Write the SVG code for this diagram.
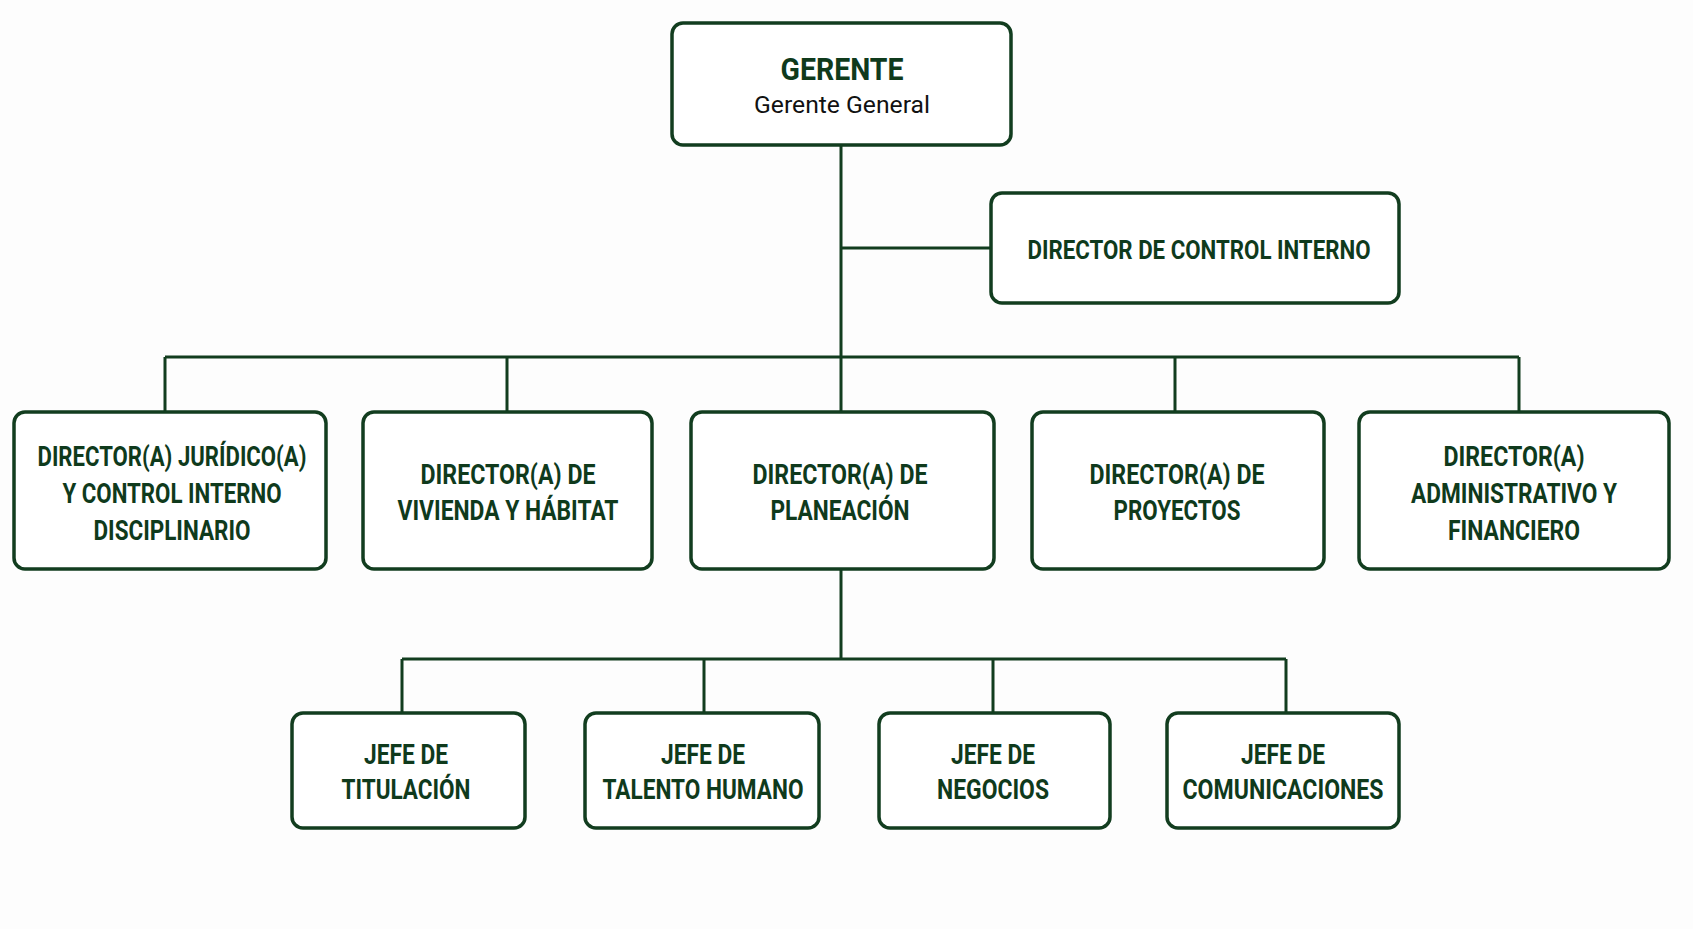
<svg xmlns="http://www.w3.org/2000/svg" width="1693" height="929" viewBox="0 0 1693 929">
<style>
.box{fill:#ffffff;stroke:#123d1f;stroke-width:3.5}
.ln{fill:none;stroke:#123d1f;stroke-width:3}
.t{font-family:Roboto,"Liberation Sans",sans-serif;font-weight:bold;fill:#0f3a1c;text-anchor:middle;font-size:27px}
.ts{font-family:Roboto,"Liberation Sans",sans-serif;fill:#111;text-anchor:middle;font-size:24px}
</style>
<rect width="1693" height="929" fill="#fdfdfd"/>
<g id="connectors">
<path class="ln" d="M841 145 V412"/>
<path class="ln" d="M841 248 H991"/>
<path class="ln" d="M165 357 H1519"/>
<path class="ln" d="M165 357 V412 M507 357 V412 M1175 357 V412 M1519 357 V412"/>
<path class="ln" d="M841 569 V659"/>
<path class="ln" d="M402 659 H1286"/>
<path class="ln" d="M402 659 V713 M704 659 V713 M993 659 V713 M1286 659 V713"/>
</g>
<g id="gerente">
<rect class="box" x="672" y="23" width="339" height="122" rx="11"/>
<text class="t" x="842" y="80" style="font-size:31px" textLength="123" lengthAdjust="spacingAndGlyphs">GERENTE</text>
<text class="ts" x="842" y="113" textLength="176" lengthAdjust="spacingAndGlyphs">Gerente General</text>
</g>
<g id="control-interno">
<rect class="box" x="991" y="193" width="408" height="110" rx="11"/>
<text class="t" x="1199" y="259" style="font-size:25px" textLength="343" lengthAdjust="spacingAndGlyphs">DIRECTOR DE CONTROL INTERNO</text>
</g>
<g id="juridico">
<rect class="box" x="14" y="412" width="312" height="157" rx="11"/>
<text class="t" x="172" y="466" textLength="269" lengthAdjust="spacingAndGlyphs">DIRECTOR(A) JURÍDICO(A)</text>
<text class="t" x="172" y="503" textLength="219" lengthAdjust="spacingAndGlyphs">Y CONTROL INTERNO</text>
<text class="t" x="172" y="540" textLength="157" lengthAdjust="spacingAndGlyphs">DISCIPLINARIO</text>
</g>
<g id="vivienda">
<rect class="box" x="363" y="412" width="289" height="157" rx="11"/>
<text class="t" x="508" y="484" textLength="175" lengthAdjust="spacingAndGlyphs">DIRECTOR(A) DE</text>
<text class="t" x="508" y="520" textLength="221" lengthAdjust="spacingAndGlyphs">VIVIENDA Y HÁBITAT</text>
</g>
<g id="planeacion">
<rect class="box" x="691" y="412" width="303" height="157" rx="11"/>
<text class="t" x="840" y="484" textLength="175" lengthAdjust="spacingAndGlyphs">DIRECTOR(A) DE</text>
<text class="t" x="840" y="520" textLength="139" lengthAdjust="spacingAndGlyphs">PLANEACIÓN</text>
</g>
<g id="proyectos">
<rect class="box" x="1032" y="412" width="292" height="157" rx="11"/>
<text class="t" x="1177" y="484" textLength="175" lengthAdjust="spacingAndGlyphs">DIRECTOR(A) DE</text>
<text class="t" x="1177" y="520" textLength="127" lengthAdjust="spacingAndGlyphs">PROYECTOS</text>
</g>
<g id="administrativo">
<rect class="box" x="1359" y="412" width="310" height="157" rx="11"/>
<text class="t" x="1514" y="466" textLength="141" lengthAdjust="spacingAndGlyphs">DIRECTOR(A)</text>
<text class="t" x="1514" y="503" textLength="206" lengthAdjust="spacingAndGlyphs">ADMINISTRATIVO Y</text>
<text class="t" x="1514" y="540" textLength="132" lengthAdjust="spacingAndGlyphs">FINANCIERO</text>
</g>
<g id="titulacion">
<rect class="box" x="292" y="713" width="233" height="115" rx="11"/>
<text class="t" x="406" y="764" textLength="84" lengthAdjust="spacingAndGlyphs">JEFE DE</text>
<text class="t" x="406" y="799" textLength="129" lengthAdjust="spacingAndGlyphs">TITULACIÓN</text>
</g>
<g id="talento-humano">
<rect class="box" x="585" y="713" width="234" height="115" rx="11"/>
<text class="t" x="703" y="764" textLength="84" lengthAdjust="spacingAndGlyphs">JEFE DE</text>
<text class="t" x="703" y="799" textLength="201" lengthAdjust="spacingAndGlyphs">TALENTO HUMANO</text>
</g>
<g id="negocios">
<rect class="box" x="879" y="713" width="231" height="115" rx="11"/>
<text class="t" x="993" y="764" textLength="84" lengthAdjust="spacingAndGlyphs">JEFE DE</text>
<text class="t" x="993" y="799" textLength="112" lengthAdjust="spacingAndGlyphs">NEGOCIOS</text>
</g>
<g id="comunicaciones">
<rect class="box" x="1167" y="713" width="232" height="115" rx="11"/>
<text class="t" x="1283" y="764" textLength="84" lengthAdjust="spacingAndGlyphs">JEFE DE</text>
<text class="t" x="1283" y="799" textLength="201" lengthAdjust="spacingAndGlyphs">COMUNICACIONES</text>
</g>
</svg>
